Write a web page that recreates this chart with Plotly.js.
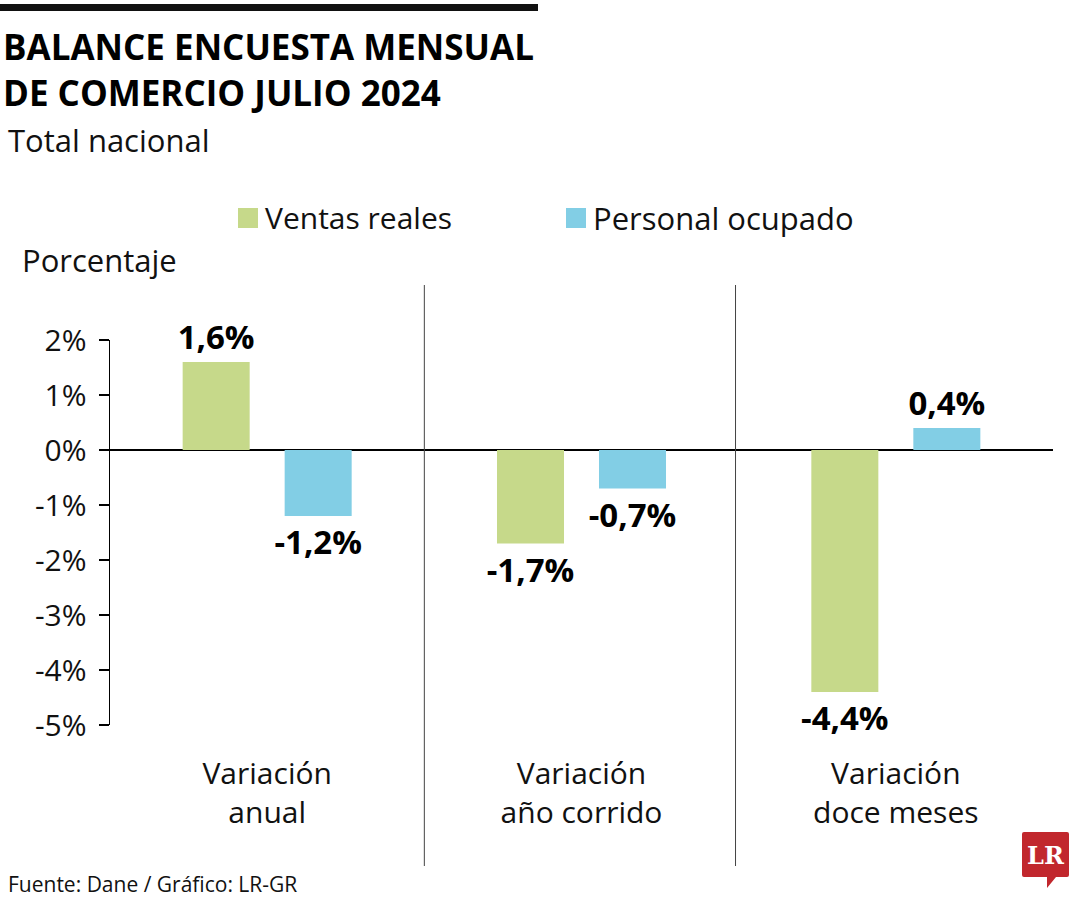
<!DOCTYPE html>
<html>
<head>
<meta charset="utf-8">
<script src="https://cdn.plot.ly/plotly-3.0.1.min.js"></script>
<style>
  html, body { margin: 0; padding: 0; background: #ffffff; }
  #chart { width: 1080px; height: 900px; }
</style>
</head>
<body>
<div id="chart"></div>
<script>
// ---- Data ----
const categories = ['Variación<br>anual', 'Variación<br>año corrido', 'Variación<br>doce meses'];
const ventasReales = [1.6, -1.7, -4.4];
const personalOcupado = [-1.2, -0.7, 0.4];
const seriesNames = ['Ventas reales', 'Personal ocupado'];
const seriesColors = ['#C6D98A', '#82CEE5'];
const yTickValues = [2, 1, 0, -1, -2, -3, -4, -5];
const yTickLabels = ['2%', '1%', '0%', '-1%', '-2%', '-3%', '-4%', '-5%'];
const titleLines = ['BALANCE ENCUESTA MENSUAL', 'DE COMERCIO JULIO 2024'];
const subtitle = 'Total nacional';
const yAxisLabel = 'Porcentaje';
const sourceText = 'Fuente: Dane / Gráfico: LR-GR';

// ---- Layout helpers ----
const W = 1080, H = 900;
const M = { l: 110, r: 27, t: 340, b: 175 };
const plotW = W - M.l - M.r, plotH = H - M.t - M.b;
const px = x => (x - M.l) / plotW;
const py = y => (H - M.b - y) / plotH;

const fmt = v => v.toFixed(1).replace('.', ',') + '%';
const FONT = 'Open Sans, Noto Sans, sans-serif';
const lightFont = (size) => ({ family: FONT, size: size, color: '#111111' });

const traces = [
  {
    type: 'bar', name: seriesNames[0], x: categories, y: ventasReales,
    marker: { color: seriesColors[0] },
    text: ventasReales.map(fmt), textposition: 'outside', constraintext: 'none',
    cliponaxis: false,
    textfont: { family: FONT, size: 33, color: '#000000', weight: 'bold' },
    hoverinfo: 'x+y', showlegend: false
  },
  {
    type: 'bar', name: seriesNames[1], x: categories, y: personalOcupado,
    marker: { color: seriesColors[1] },
    text: personalOcupado.map(fmt), textposition: 'outside', constraintext: 'none',
    cliponaxis: false,
    textfont: { family: FONT, size: 33, color: '#000000', weight: 'bold' },
    hoverinfo: 'x+y', showlegend: false
  }
];

const shapes = [
  // top black rule
  { type: 'rect', xref: 'paper', yref: 'paper', x0: px(0), x1: px(538), y0: py(11), y1: py(4),
    fillcolor: '#111111', line: { width: 0 } },
  // group separators
  { type: 'line', xref: 'x', yref: 'paper', x0: 0.5, x1: 0.5, y0: py(866), y1: py(285),
    line: { color: '#444444', width: 1 } },
  { type: 'line', xref: 'x', yref: 'paper', x0: 1.49, x1: 1.49, y0: py(866), y1: py(285),
    line: { color: '#444444', width: 1 } },
  // legend swatches
  { type: 'rect', xref: 'paper', yref: 'paper', x0: px(238), x1: px(258), y0: py(228), y1: py(208),
    fillcolor: seriesColors[0], line: { width: 0 } },
  { type: 'rect', xref: 'paper', yref: 'paper', x0: px(566), x1: px(586), y0: py(228), y1: py(208),
    fillcolor: seriesColors[1], line: { width: 0 } },
  // LR logo bubble
  { type: 'path', xref: 'paper', yref: 'paper',
    path: `M ${px(1024)} ${py(832)} L ${px(1067)} ${py(832)} Q ${px(1069)} ${py(832)} ${px(1069)} ${py(834)} L ${px(1069)} ${py(875)} Q ${px(1069)} ${py(877)} ${px(1067)} ${py(877)} L ${px(1056)} ${py(877)} L ${px(1047)} ${py(888)} L ${px(1047)} ${py(877)} L ${px(1024)} ${py(877)} Q ${px(1022)} ${py(877)} ${px(1022)} ${py(875)} L ${px(1022)} ${py(834)} Q ${px(1022)} ${py(832)} ${px(1024)} ${py(832)} Z`,
    fillcolor: '#C1272D', line: { width: 0 } }
];

const annotations = [
  { text: subtitle, xref: 'paper', yref: 'paper', x: px(6), y: py(140),
    xanchor: 'left', yanchor: 'middle', showarrow: false, font: lightFont(31) },
  { text: seriesNames[0], xref: 'paper', yref: 'paper', x: px(263), y: py(218),
    xanchor: 'left', yanchor: 'middle', showarrow: false, font: lightFont(30) },
  { text: seriesNames[1], xref: 'paper', yref: 'paper', x: px(591), y: py(218),
    xanchor: 'left', yanchor: 'middle', showarrow: false, font: lightFont(31) },
  { text: yAxisLabel, xref: 'paper', yref: 'paper', x: px(20), y: py(260),
    xanchor: 'left', yanchor: 'middle', showarrow: false, font: lightFont(31) },
  { text: sourceText, xref: 'paper', yref: 'paper', x: px(6), y: py(884),
    xanchor: 'left', yanchor: 'middle', showarrow: false, font: lightFont(21) },
  { text: '<b>LR</b>', xref: 'paper', yref: 'paper', x: px(1045.5), y: py(855),
    xanchor: 'center', yanchor: 'middle', showarrow: false,
    font: { family: 'DejaVu Serif, Liberation Serif, serif', size: 24, color: '#ffffff' } }
];

const layout = {
  width: W, height: H,
  margin: { l: M.l, r: M.r, t: M.t, b: M.b, pad: 0 },
  paper_bgcolor: '#ffffff', plot_bgcolor: '#ffffff',
  title: {
    text: '<b>' + titleLines[0] + '<br>' + titleLines[1] + '</b>',
    xref: 'container', yref: 'container', x: 3 / W, xanchor: 'left',
    y: 1 - 60 / H, yanchor: 'middle',
    font: { family: FONT, size: 35, color: '#000000' }
  },
  barmode: 'group', bargap: 0.351, bargroupgap: 0.343,
  showlegend: false,
  xaxis: {
    type: 'category', range: [-0.5, 2.5], showgrid: false, zeroline: false,
    showline: false, ticks: '', ticklabelstandoff: 28,
    tickfont: lightFont(30), fixedrange: true
  },
  yaxis: {
    range: [-5, 2], tickmode: 'array', tickvals: yTickValues, ticktext: yTickLabels,
    showgrid: false, showline: true, linecolor: '#000000', linewidth: 1.5,
    ticks: 'outside', ticklen: 10, tickwidth: 1.5, tickcolor: '#000000',
    zeroline: true, zerolinecolor: '#000000', zerolinewidth: 1.5,
    ticklabelstandoff: 6, tickfont: lightFont(30), fixedrange: true
  },
  shapes: shapes,
  annotations: annotations,
  font: { family: FONT, color: '#111111' }
};

Plotly.newPlot('chart', traces, layout, { displayModeBar: false, staticPlot: true });
</script>
</body>
</html>
